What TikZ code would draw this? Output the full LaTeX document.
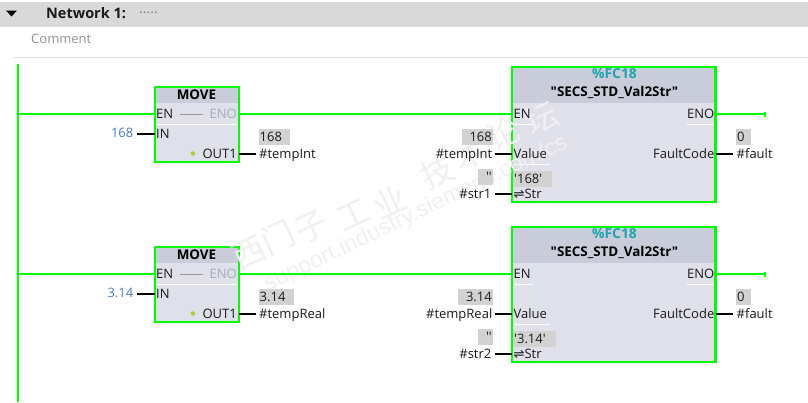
\documentclass[tikz,border=0pt]{standalone}
\usepackage{fontspec}
\setmainfont{Open Sans}
\newfontfamily\plainof[Ligatures=NoCommon]{Open Sans}
\newfontfamily\cjkwm{Noto Sans CJK SC}
\newfontfamily\symfont{DejaVu Sans}
\newfontfamily\wmlatin{Liberation Sans}
\definecolor{plcgreen}{HTML}{00FF00}
\definecolor{hdrbar}{HTML}{D9D9D9}
\definecolor{blockhead}{HTML}{C9CCD9}
\definecolor{blockbody}{HTML}{DFE0E9}
\definecolor{valbox}{HTML}{D2D2D2}
\definecolor{constblue}{HTML}{4A78D6}
\definecolor{fcteal}{HTML}{1FA3AE}
\definecolor{dimtext}{HTML}{A8AAB6}
\definecolor{txt}{HTML}{1A1A1A}
\definecolor{wmark}{HTML}{F0F0F3}
\tikzset{
  x=1pt,y=-1pt,
  rail/.style={draw=plcgreen,line width=2pt},
  wire/.style={draw=black,line width=1.4pt},
  blockframe/.style={draw=plcgreen,line width=2.4pt,fill=blockbody,inner sep=0pt,outer sep=0pt,anchor=north west},
  headfill/.style={fill=blockhead,draw=none},
  tx/.style={font=\fontsize{13}{15}\selectfont,text=txt,inner sep=0.5pt,text height=10pt,text depth=1.5pt},
  pinl/.style={tx,anchor=west},
  pinr/.style={tx,anchor=east},
  valnum/.style={fill=valbox,font=\plainof\fontsize{13}{15}\selectfont,text=txt,inner sep=0pt,minimum height=16pt,text height=10pt,text depth=2pt},
  title/.style={font=\plainof\fontsize{13.4}{15}\selectfont\bfseries,text=black,inner sep=0pt},
  fcname/.style={font=\fontsize{13.8}{15}\selectfont\bfseries,text=fcteal,inner sep=0pt},
  glint/.style={draw=white,line width=1pt},
  wmc/.style={text=wmark,inner sep=0pt,rotate=25,font=\cjkwm\fontsize{33}{35}\selectfont},
  wmu/.style={text=wmark,inner sep=0pt,rotate=25.6,font=\wmlatin\fontsize{23}{25}\selectfont},
  starmark/.style={font=\symfont\fontsize{7}{8}\selectfont,text=black!20!yellow!75!green,inner sep=0pt},
  ldash/.style={draw=gray!80,line width=.8pt},
}
\newcommand{\swapsym}{{\symfont\fontsize{13}{15}\selectfont ⇌}}
\begin{document}
\begin{tikzpicture}
\useasboundingbox (0,0) rectangle (808,402);
\fill[white] (0,0) rectangle (808,402);
% header
\fill[hdrbar] (0,2) rectangle (808,26.5);
\fill[black] (6,10.5) -- (17,10.5) -- (11.5,16.5) -- cycle;
\node[anchor=west,font=\fontsize{14.5}{16}\selectfont\bfseries,inner sep=0pt,text=txt] (nettitle) at (46,13.5) {Network 1:};
\node[anchor=west,font=\fontsize{14}{16}\selectfont,inner sep=0pt,text=gray] (netdots) at (139,13) {.....};
\node[anchor=west,font=\fontsize{13}{15}\selectfont,inner sep=0pt,text=gray!85] (cmt) at (31,38.5) {Comment};
\draw[draw=black!12,line width=.8pt] (13,57.5) -- (808,57.5);
% left power rail
\coordinate (railtop) at (17.5,64);
\coordinate (railbot) at (17.5,402);
\coordinate (r1) at (17.5,114);
\coordinate (r2) at (17.5,274);

% ===== blocks =====
\node[blockframe,minimum width=84.1pt,minimum height=74.9pt] (mv1) at (154.7,86.9) {};
\node[blockframe,minimum width=84.1pt,minimum height=74.9pt] (mv2) at (154.7,246.9) {};
\node[blockframe,minimum width=203.3pt,minimum height=134.9pt] (fc1) at (512.2,66.9) {};
\node[blockframe,minimum width=203.3pt,minimum height=134.9pt] (fc2) at (512.2,226.9) {};
\fill[headfill] (155.9,88.1) rectangle (237.6,102.5);
\fill[headfill] (155.9,248.1) rectangle (237.6,262.5);
\fill[headfill] (513.4,68.1) rectangle (714.3,103);
\fill[headfill] (513.4,228.1) rectangle (714.3,263);

% glints
\draw[glint] (156,124.5) -- (237,124.5);
\draw[glint] (156,284.5) -- (237,284.5);
\draw[glint] (514,124.5) -- (533,124.5);
\draw[glint] (514,284.5) -- (533,284.5);
\draw[glint] (687,124.5) -- (714,124.5);
\draw[glint] (687,284.5) -- (714,284.5);
\draw[glint] (514,164.5) -- (550,164.5);
\draw[glint] (514,324.5) -- (550,324.5);

% watermark
\node[wmc] (w1) at (250,253) {西};
\node[wmc] (w2) at (278,237) {门};
\node[wmc] (w3) at (312,227) {子};
\node[wmc] (w4) at (353,215) {工};
\node[wmc] (w5) at (390,202) {业};
\node[wmc] (w6) at (437,172) {技};
\node[wmc] (w7) at (470,153) {术};
\node[wmc] (w8) at (503,133) {论};
\node[wmc] (w9) at (542,118) {坛};
\node[wmu] (w10) at (416,214) {support.industry.siemens.com/cs};

% titles
\node[title] (mv1t) at (196.5,94.5) {MOVE};
\node[title] (mv2t) at (196.5,254.5) {MOVE};
\node[fcname] (fc1a) at (614.5,73.5) {\%FC18};
\node[fcname] (fc2a) at (614.5,233.5) {\%FC18};
\node[title] (fc1t) at (614.5,92) {"SECS\_STD\_Val2Str"};
\node[title] (fc2t) at (614.5,252) {"SECS\_STD\_Val2Str"};

% MOVE 1 pins
\node[pinl] (m1en) at (155.5,114) {EN};
\node[pinr,text=dimtext] (m1eno) at (237.5,114) {ENO};
\node[pinl] (m1in) at (155.5,134) {IN};
\node[pinr] (m1out) at (237.5,154) {OUT1};
\node[starmark] (m1st) at (193,154) {✱};
\draw[ldash] ([xshift=6]m1en.east) -- ([xshift=-6]m1eno.west);
% MOVE 2 pins
\node[pinl] (m2en) at (155.5,274) {EN};
\node[pinr,text=dimtext] (m2eno) at (237.5,274) {ENO};
\node[pinl] (m2in) at (155.5,294) {IN};
\node[pinr] (m2out) at (237.5,314) {OUT1};
\node[starmark] (m2st) at (193,314) {✱};
\draw[ldash] ([xshift=6]m2en.east) -- ([xshift=-6]m2eno.west);

% FC1 pins
\node[valnum,anchor=north west,minimum width=39pt,align=left,text width=37pt,inner xsep=1pt] (f1cur) at (513,171) {'168'};
\node[pinl] (f1en) at (513,114) {EN};
\node[pinr] (f1eno) at (715,114) {ENO};
\node[pinl] (f1val) at (513,154) {Value};
\node[pinr] (f1fc) at (715,154) {FaultCode};
\node[pinl] (f1str) at (513,194) {\swapsym Str};
% FC2 pins
\node[valnum,anchor=north west,minimum width=43pt,align=left,text width=41pt,inner xsep=1pt] (f2cur) at (513,331) {'3.14'};
\node[pinl] (f2en) at (513,274) {EN};
\node[pinr] (f2eno) at (715,274) {ENO};
\node[pinl] (f2val) at (513,314) {Value};
\node[pinr] (f2fc) at (715,314) {FaultCode};
\node[pinl] (f2str) at (513,354) {\swapsym Str};

% external labels network row 1
\node[pinr,text=constblue] (c168) at (134,133.5) {168};
\node[pinl] (tI1) at (258.5,154) {\#tempInt};
\node[valnum,anchor=north west,minimum width=31pt,text width=29pt,align=left,inner xsep=1pt] (v1) at (258.5,129) {168};
\node[pinr] (tI2) at (493,154) {\#tempInt};
\node[valnum,anchor=north east,minimum width=31pt,text width=29pt,align=right,inner xsep=1pt] (v2) at (493,129) {168};
\node[pinr] (s1) at (492,194) {\#str1};
\node[valnum,anchor=north east,minimum width=15pt,text width=13pt,align=right,inner xsep=1pt] (v3) at (493,169) {''};
\node[pinl] (ft1) at (736,154) {\#fault};
\node[valnum,anchor=north west,minimum width=15pt,text width=13pt,align=left,inner xsep=1pt] (v4) at (736,129) {0};
% row 2
\node[pinr,text=constblue] (c314) at (134,293.5) {3.14};
\node[pinl] (tR1) at (258.5,314) {\#tempReal};
\node[valnum,anchor=north west,minimum width=35pt,text width=33pt,align=left,inner xsep=1pt] (v5) at (258.5,289) {3.14};
\node[pinr] (tR2) at (493,314) {\#tempReal};
\node[valnum,anchor=north east,minimum width=35pt,text width=33pt,align=right,inner xsep=1pt] (v6) at (493,289) {3.14};
\node[pinr] (s2) at (492,354) {\#str2};
\node[valnum,anchor=north east,minimum width=15pt,text width=13pt,align=right,inner xsep=1pt] (v7) at (493,329) {''};
\node[pinl] (ft2) at (736,314) {\#fault};
\node[valnum,anchor=north west,minimum width=15pt,text width=13pt,align=left,inner xsep=1pt] (v8) at (736,289) {0};

% power flow
\draw[rail] (railtop) -- (railbot);
\draw[rail] (r1) -- (r1-|mv1.west);
\draw[rail] (r2) -- (r2-|mv2.west);
\coordinate (e1) at (765,114);
\coordinate (e2) at (765,274);
\draw[rail] (r1-|mv1.east) -- (r1-|fc1.west);
\draw[rail] (r2-|mv2.east) -- (r2-|fc2.west);
\draw[rail] (e1-|fc1.east) -- (e1);
\draw[rail] (e2-|fc2.east) -- (e2);
\draw[rail] ([yshift=-2.5]e1) -- ([yshift=2.5]e1);
\draw[rail] ([yshift=-2.5]e2) -- ([yshift=2.5]e2);

% wires
\draw[wire] (137,134) coordinate (w1a) -- (w1a-|mv1.west);
\draw[wire] (137,294) coordinate (w2a) -- (w2a-|mv2.west);
\draw[wire] (tI1.west-|mv1.east) -- ([xshift=-3]tI1.west);
\draw[wire] (tR1.west-|mv2.east) -- ([xshift=-3]tR1.west);
\draw[wire] ([xshift=2]tI2.east) -- (tI2.east-|fc1.west);
\draw[wire] ([xshift=2]tR2.east) -- (tR2.east-|fc2.west);
\draw[wire] ([xshift=3]s1.east) -- (s1.east-|fc1.west);
\draw[wire] ([xshift=3]s2.east) -- (s2.east-|fc2.west);
\draw[wire] (ft1.west-|fc1.east) -- ([xshift=-3]ft1.west);
\draw[wire] (ft2.west-|fc2.east) -- ([xshift=-3]ft2.west);
\end{tikzpicture}
\end{document}
